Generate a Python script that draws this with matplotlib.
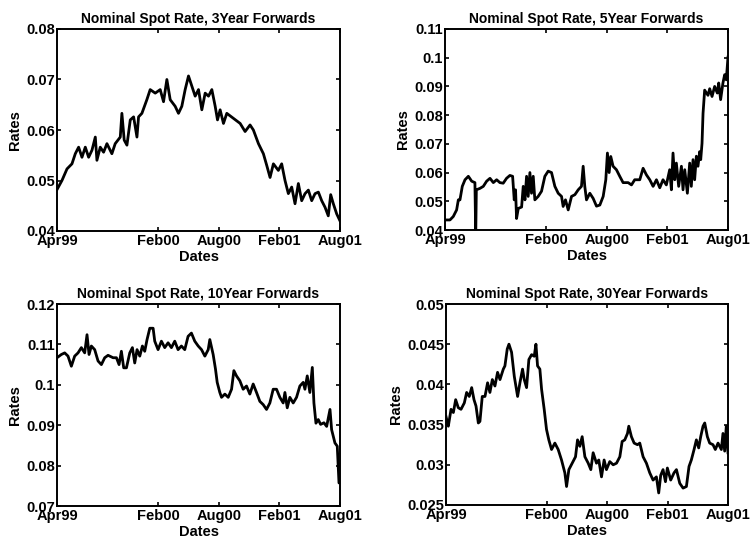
import matplotlib
matplotlib.use("Agg")
import matplotlib.pyplot as plt
from matplotlib.ticker import FuncFormatter

# x values: months since Apr 1999
tick_months = [0, 10, 16, 22, 28]
tick_labels = ["Apr99", "Feb00", "Aug00", "Feb01", "Aug01"]

titles = ["Nominal Spot Rate, 3Year Forwards", "Nominal Spot Rate, 5Year Forwards",
          "Nominal Spot Rate, 10Year Forwards", "Nominal Spot Rate, 30Year Forwards"]

m3 = [0, 0.49, 0.99, 1.48, 1.81, 2.14, 2.47, 2.80, 3.13, 3.46, 3.79, 3.95, 4.28, 4.61, 4.94,
      5.43, 5.76, 6.26, 6.42, 6.65, 6.92, 7.25, 7.58, 7.91, 8.07, 8.40, 8.89, 9.22, 9.72, 10.21,
      10.54, 10.87, 11.20, 11.69, 12.02, 12.35, 12.68, 13.01, 13.34, 13.67, 14.00, 14.33, 14.66,
      14.99, 15.32, 15.65, 15.88, 16.14, 16.47, 16.80, 17.46, 18.12, 18.61, 19.10, 19.43, 19.93,
      20.42, 20.75, 21.08, 21.41, 21.90, 22.23, 22.56, 22.89, 23.22, 23.55, 23.88, 24.21, 24.54,
      24.87, 25.20, 25.53, 25.86, 26.19, 26.52, 26.84, 27.08, 27.34, 27.67, 28.00]
r3 = [0.0482, 0.0500, 0.0523, 0.0533, 0.0553, 0.0566, 0.0546, 0.0566, 0.0546, 0.0560, 0.0586,
      0.0540, 0.0566, 0.0556, 0.0573, 0.0553, 0.0573, 0.0586, 0.0633, 0.0580, 0.0570, 0.0620,
      0.0626, 0.0586, 0.0626, 0.0633, 0.0660, 0.0680, 0.0673, 0.0680, 0.0656, 0.0700, 0.0660,
      0.0647, 0.0633, 0.0647, 0.0680, 0.0707, 0.0687, 0.0667, 0.0680, 0.0640, 0.0673, 0.0667,
      0.0680, 0.0647, 0.0620, 0.0640, 0.0613, 0.0633, 0.0623, 0.0613, 0.0597, 0.0610, 0.0600,
      0.0573, 0.0553, 0.0530, 0.0506, 0.0533, 0.0520, 0.0533, 0.0500, 0.0474, 0.0487, 0.0454,
      0.0494, 0.0460, 0.0474, 0.0481, 0.0460, 0.0474, 0.0477, 0.0460, 0.0447, 0.0430, 0.0472,
      0.0454, 0.0434, 0.0420]

m5 = [0, 0.49, 0.82, 1.15, 1.32, 1.48, 1.71, 1.98, 2.31, 2.64, 2.96, 3.04, 3.10, 3.46, 3.79,
      4.12, 4.45, 4.78, 5.11, 5.43, 5.76, 6.09, 6.42, 6.69, 6.85, 6.98, 7.08, 7.25, 7.58, 7.74,
      7.91, 8.07, 8.23, 8.40, 8.56, 8.73, 8.89, 9.22, 9.55, 9.88, 10.21, 10.54, 10.87, 11.20,
      11.53, 11.69, 11.92, 12.19, 12.52, 12.85, 13.18, 13.50, 13.67, 13.83, 14.00, 14.33, 14.66,
      14.99, 15.32, 15.65, 15.91, 16.07, 16.24, 16.40, 16.63, 16.96, 17.29, 17.62, 18.12, 18.45,
      18.77, 19.27, 19.60, 19.93, 20.26, 20.59, 20.92, 21.25, 21.57, 21.90, 22.23, 22.40, 22.56,
      22.73, 22.89, 23.12, 23.39, 23.55, 23.72, 23.98, 24.21, 24.37, 24.54, 24.70, 24.87, 25.03,
      25.20, 25.30, 25.43, 25.53, 25.69, 26.02, 26.19, 26.42, 26.68, 26.94, 27.08, 27.27, 27.50,
      27.67, 27.83, 28.00]
r5 = [0.0435, 0.0435, 0.0447, 0.0470, 0.0505, 0.0505, 0.0552, 0.0575, 0.0587, 0.0570, 0.0565,
      0.0380, 0.0540, 0.0545, 0.0552, 0.0570, 0.0580, 0.0565, 0.0575, 0.0565, 0.0563, 0.0580,
      0.0590, 0.0587, 0.0505, 0.0540, 0.0440, 0.0475, 0.0480, 0.0552, 0.0505, 0.0587, 0.0517,
      0.0600, 0.0528, 0.0587, 0.0505, 0.0517, 0.0535, 0.0587, 0.0605, 0.0600, 0.0552, 0.0528,
      0.0517, 0.0482, 0.0505, 0.0470, 0.0517, 0.0523, 0.0540, 0.0552, 0.0622, 0.0552, 0.0505,
      0.0528, 0.0510, 0.0483, 0.0487, 0.0517, 0.0575, 0.0668, 0.0600, 0.0656, 0.0622, 0.0610,
      0.0587, 0.0565, 0.0565, 0.0557, 0.0575, 0.0575, 0.0615, 0.0592, 0.0575, 0.0552, 0.0575,
      0.0547, 0.0575, 0.0557, 0.0610, 0.0540, 0.0668, 0.0575, 0.0633, 0.0552, 0.0622, 0.0540,
      0.0610, 0.0528, 0.0633, 0.0552, 0.0645, 0.0575, 0.0657, 0.0622, 0.0673, 0.0645, 0.0702,
      0.0806, 0.0887, 0.0869, 0.0892, 0.0865, 0.0900, 0.0877, 0.0912, 0.0854, 0.0912, 0.0941,
      0.0923, 0.1002]

m10 = [0, 0.43, 0.76, 1.09, 1.42, 1.75, 2.08, 2.41, 2.74, 2.97, 3.17, 3.40, 3.73, 4.06, 4.39,
       4.72, 5.05, 5.55, 5.88, 6.14, 6.37, 6.60, 6.87, 7.20, 7.46, 7.69, 7.92, 8.19, 8.45, 8.68,
       8.91, 9.18, 9.51, 9.67, 10.00, 10.33, 10.66, 10.99, 11.32, 11.65, 11.98, 12.31, 12.64,
       12.97, 13.30, 13.63, 13.97, 14.30, 14.63, 14.96, 15.12, 15.45, 15.68, 15.85, 16.11, 16.28,
       16.61, 16.94, 17.27, 17.50, 17.76, 18.09, 18.42, 18.75, 19.08, 19.41, 19.74, 20.07, 20.40,
       20.73, 21.06, 21.39, 21.72, 22.05, 22.38, 22.55, 22.78, 23.04, 23.37, 23.70, 24.03, 24.36,
       24.53, 24.76, 25.02, 25.26, 25.42, 25.62, 25.85, 26.08, 26.41, 26.68, 27.01, 27.17, 27.50,
       27.73, 27.90, 28.00]
r10 = [0.1067, 0.1075, 0.1079, 0.1071, 0.1046, 0.1071, 0.1079, 0.1092, 0.1079, 0.1124, 0.1075,
       0.1096, 0.1087, 0.1059, 0.1050, 0.1067, 0.1073, 0.1067, 0.1067, 0.1050, 0.1083, 0.1042,
       0.1042, 0.1079, 0.1092, 0.1054, 0.1087, 0.1071, 0.1096, 0.1083, 0.1112, 0.1140, 0.1140,
       0.1108, 0.1087, 0.1108, 0.1092, 0.1104, 0.1092, 0.1108, 0.1087, 0.1096, 0.1087, 0.1120,
       0.1128, 0.1108, 0.1096, 0.1087, 0.1071, 0.1087, 0.1112, 0.1075, 0.1039, 0.1006, 0.0981,
       0.0969, 0.0977, 0.0969, 0.0989, 0.1035, 0.1022, 0.1010, 0.0989, 0.0997, 0.0977, 0.1002,
       0.0981, 0.0959, 0.0951, 0.0939, 0.0955, 0.0989, 0.0989, 0.0969, 0.0955, 0.0981, 0.0943,
       0.0969, 0.0955, 0.0969, 0.0997, 0.1006, 0.0989, 0.1022, 0.0981, 0.1043, 0.0955, 0.0905,
       0.0914, 0.0902, 0.0906, 0.0897, 0.0939, 0.0889, 0.0856, 0.0848, 0.0757, 0.0760]

m30 = [0, 0.23, 0.50, 0.73, 0.96, 1.22, 1.49, 1.82, 2.05, 2.31, 2.55, 2.78, 2.98, 3.21, 3.37,
       3.60, 3.87, 4.13, 4.36, 4.60, 4.86, 5.12, 5.36, 5.69, 5.85, 6.08, 6.25, 6.51, 6.78, 7.11,
       7.34, 7.60, 7.77, 8.00, 8.23, 8.50, 8.76, 8.93, 9.09, 9.32, 9.49, 9.75, 9.98, 10.21, 10.48,
       10.81, 11.14, 11.47, 11.80, 11.97, 12.20, 12.53, 12.86, 13.06, 13.29, 13.52, 13.79, 14.12,
       14.38, 14.61, 14.94, 15.17, 15.44, 15.70, 15.93, 16.26, 16.60, 16.93, 17.26, 17.49, 17.75,
       18.02, 18.15, 18.41, 18.68, 19.01, 19.24, 19.57, 19.90, 20.23, 20.56, 20.89, 21.12, 21.32,
       21.55, 21.79, 21.98, 22.31, 22.64, 22.88, 23.21, 23.54, 23.87, 24.13, 24.36, 24.63, 24.86,
       25.09, 25.29, 25.52, 25.69, 25.95, 26.18, 26.51, 26.74, 27.01, 27.34, 27.50, 27.67, 27.83,
       28.00]
r30 = [0.0360, 0.0348, 0.0369, 0.0365, 0.0381, 0.0371, 0.0369, 0.0377, 0.0390, 0.0385, 0.0396,
       0.0381, 0.0373, 0.0352, 0.0354, 0.0385, 0.0385, 0.0402, 0.0390, 0.0406, 0.0398, 0.0415,
       0.0406, 0.0419, 0.0423, 0.0444, 0.0450, 0.0440, 0.0410, 0.0385, 0.0402, 0.0419, 0.0406,
       0.0396, 0.0431, 0.0437, 0.0435, 0.0450, 0.0423, 0.0419, 0.0394, 0.0369, 0.0344, 0.0331,
       0.0319, 0.0327, 0.0319, 0.0306, 0.0290, 0.0273, 0.0294, 0.0302, 0.0310, 0.0331, 0.0323,
       0.0335, 0.0310, 0.0302, 0.0294, 0.0315, 0.0302, 0.0306, 0.0285, 0.0306, 0.0294, 0.0304,
       0.0300, 0.0302, 0.0310, 0.0329, 0.0331, 0.0339, 0.0348, 0.0335, 0.0327, 0.0325, 0.0327,
       0.0310, 0.0302, 0.0290, 0.0281, 0.0285, 0.0265, 0.0287, 0.0294, 0.0279, 0.0296, 0.0281,
       0.0290, 0.0294, 0.0277, 0.0271, 0.0273, 0.0298, 0.0306, 0.0319, 0.0331, 0.0321, 0.0335,
       0.0348, 0.0352, 0.0335, 0.0327, 0.0325, 0.0319, 0.0327, 0.0319, 0.0339, 0.0317, 0.0348,
       0.0315]

ylims = [(0.04, 0.08), (0.04, 0.11), (0.07, 0.12), (0.025, 0.05)]
yticks = [[0.04, 0.05, 0.06, 0.07, 0.08],
          [0.04, 0.05, 0.06, 0.07, 0.08, 0.09, 0.1, 0.11],
          [0.07, 0.08, 0.09, 0.1, 0.11, 0.12],
          [0.025, 0.03, 0.035, 0.04, 0.045, 0.05]]

plt.rcParams['font.family'] = ['Liberation Sans', 'DejaVu Sans']
plt.rcParams['font.weight'] = 'bold'

fig = plt.figure(figsize=(7.51, 5.39), dpi=100)
W, H = 751.0, 539.0
boxes = [(57, 29, 340, 231), (445, 29, 728, 230), (57, 304, 340, 506), (446, 304, 728, 505)]
series = [(m3, r3), (m5, r5), (m10, r10), (m30, r30)]

for i in range(4):
    x0, y0, x1, y1 = boxes[i]
    ax = fig.add_axes([x0 / W, 1 - y1 / H, (x1 - x0) / W, (y1 - y0) / H])
    xs, ys = series[i]
    ax.plot(xs, ys, color='black', lw=2.0)
    ax.set_xlim(0, 28)
    ax.set_ylim(*ylims[i])
    ax.set_xticks(tick_months)
    ax.set_xticklabels(tick_labels)
    ax.set_yticks(yticks[i])
    ax.yaxis.set_major_formatter(FuncFormatter(lambda v, p: ('%g' % round(v, 4))))
    ax.tick_params(direction='in', top=True, right=True, length=3, width=1.2,
                   labelsize=10.5)
    ax.tick_params(axis='x', pad=2.5)
    ax.tick_params(axis='y', pad=1.5)
    for lab in ax.get_xticklabels() + ax.get_yticklabels():
        lab.set_fontweight('bold')
    for s in ax.spines.values():
        s.set_linewidth(1.4)
    ax.set_title(titles[i], fontsize=10, fontweight='bold', pad=4)
    ax.set_xlabel('Dates', fontsize=10.5, fontweight='bold', labelpad=1)
    ax.set_ylabel('Rates', fontsize=10.5, fontweight='bold', labelpad=3)

fig.savefig('out.png', dpi=100)
